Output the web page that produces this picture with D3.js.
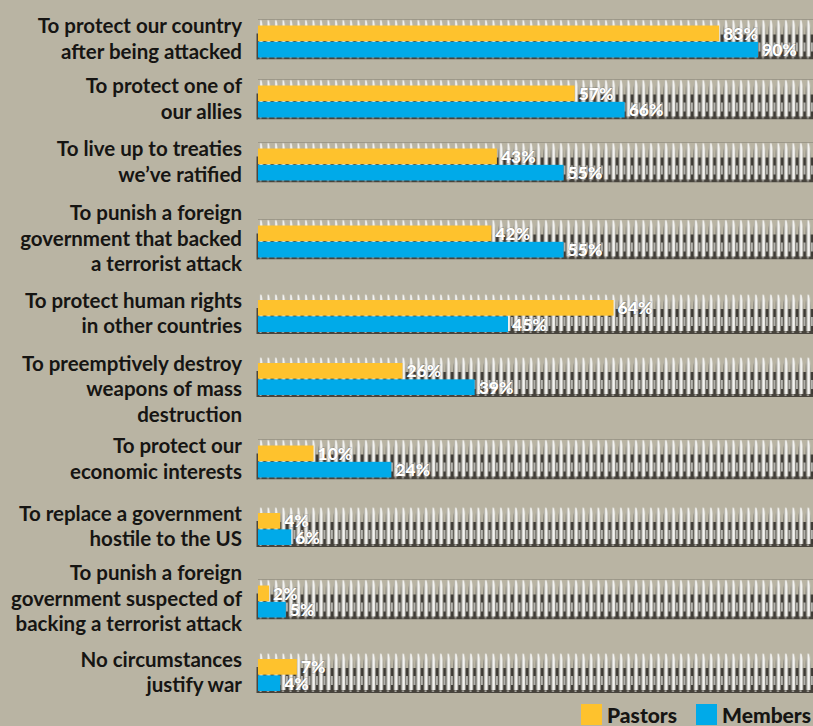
<!DOCTYPE html>
<html lang="en">
<head>
<meta charset="UTF-8">
<title>Justifications for war</title>
<style>
  body { margin: 0; background: #b9b4a3; }
  svg { display: block; }
</style>
<script src="https://cdn.jsdelivr.net/npm/d3@7"></script>
</head>
<body>
<div id="chart"></div>
<script>
// data
const categories = [
  "To protect our country\nafter being attacked",
  "To protect one of\nour allies",
  "To live up to treaties\nwe\u2019ve ratified",
  "To punish a foreign\ngovernment that backed\na terrorist attack",
  "To protect human rights\nin other countries",
  "To preemptively destroy\nweapons of mass\ndestruction",
  "To protect our\neconomic interests",
  "To replace a government\nhostile to the US",
  "To punish a foreign\ngovernment suspected of\nbacking a terrorist attack",
  "No circumstances\njustify war"
];
const series = ["Pastors", "Members"];
const pastors = [83, 57, 43, 42, 64, 26, 10, 4, 2, 7];
const members = [90, 66, 55, 55, 45, 39, 24, 6, 5, 4];

// layout
const width = 813, height = 726;
const rowCenters = [41.5, 101.5, 164.5, 241.5, 316, 379, 461.5, 529, 601.5, 675];
const hangingRows = [5]; // label third line hangs below the bar
const colors = { Pastors: "#fec22d", Members: "#00aae9" };
const lineH = 25.5;

const svg = d3.select("#chart").append("svg")
  .attr("width", width).attr("height", height);

svg.append("rect").attr("width", width).attr("height", height).attr("fill", "#b9b4a3");

const x = d3.scaleLinear().domain([0, 100]).range([258, 258 + 555.6]);
const y = d3.scaleOrdinal(categories, rowCenters);
const inner = d3.scaleBand(series, [-16, 16]).paddingInner(0.04);
const color = d3.scaleOrdinal(series, [colors.Pastors, colors.Members]);

// ribbed texture behind bars
const P = 7.5, H = 40, bandTop = -22;
const defs = svg.append("defs");
const grad = defs.append("linearGradient").attr("id", "spike")
  .attr("x1", 0).attr("x2", 1).attr("y1", 0).attr("y2", 0);
[[0, "#66645d"], [0.3, "#cfcec7"], [0.55, "#ffffff"], [0.8, "#dddcd6"], [1, "#8a8880"]]
  .forEach(s => grad.append("stop").attr("offset", s[0]).attr("stop-color", s[1]));

const pat = defs.append("pattern").attr("id", "rib")
  .attr("patternUnits", "userSpaceOnUse")
  .attr("x", 258).attr("y", bandTop)
  .attr("width", P).attr("height", H);
pat.append("rect").attr("width", P).attr("height", H).attr("fill", "#b9b4a3");
pat.append("rect").attr("y", 15).attr("width", P).attr("height", H - 15).attr("fill", "#3d3a34");
pat.append("rect").attr("x", 5.9).attr("y", 23).attr("width", 1.2).attr("height", 9).attr("fill", "#efeee8");
pat.append("path")
  .attr("d", `M0.3,${H - 3} L0.3,13 Q0.7,2 2.7,0 Q4.7,2 5.3,13 L5.3,${H - 3} Z`)
  .attr("fill", "url(#spike)");
pat.append("rect").attr("y", H - 3).attr("width", P).attr("height", 3).attr("fill", "#47433c");
pat.append("rect").attr("x", 1.5).attr("y", H - 2.5).attr("width", 2).attr("height", 1.2).attr("fill", "#d9d8d1");

const rows = svg.selectAll("g.row")
  .data(categories.map((c, i) => ({ c, i, vals: [pastors[i], members[i]] })))
  .join("g").attr("class", "row")
  .attr("transform", d => `translate(0,${y(d.c)})`);

rows.append("rect")
  .attr("x", x(0)).attr("y", bandTop)
  .attr("width", x(100) - x(0)).attr("height", H)
  .attr("fill", "url(#rib)");

rows.append("rect")
  .attr("x", x(0) - 1.5).attr("y", -8).attr("width", 1.5).attr("height", 26)
  .attr("fill", "#4a463f");

rows.selectAll("rect.bar")
  .data(d => series.map((s, k) => ({ s, v: d.vals[k] })))
  .join("rect").attr("class", "bar")
  .attr("x", x(0))
  .attr("y", d => inner(d.s))
  .attr("width", d => x(d.v) - x(0))
  .attr("height", inner.bandwidth())
  .attr("fill", d => color(d.s));

rows.selectAll("text.val")
  .data(d => series.map((s, k) => ({ s, v: d.vals[k] })))
  .join("text").attr("class", "val")
  .attr("x", d => x(d.v) + 4)
  .attr("y", d => inner(d.s) + inner.bandwidth() - 1.5)
  .attr("fill", "#ffffff")
  .attr("font-family", "Lato, sans-serif")
  .attr("font-weight", 900)
  .attr("font-size", 17.5)
  .style("paint-order", "stroke")
  .attr("stroke", "rgba(60,58,52,0.35)")
  .attr("stroke-width", 1)
  .text(d => d.v + "%");

// category labels
rows.each(function (d) {
  const lines = d.c.split("\n");
  const n = hangingRows.includes(d.i) ? 2 : lines.length;
  const first = -8.5 - (n - 2) * lineH / 2;
  const t = d3.select(this).append("text")
    .attr("text-anchor", "end")
    .attr("font-family", "Lato, sans-serif")
    .attr("font-weight", 700)
    .attr("font-size", 20.5)
    .attr("fill", "#161513");
  lines.forEach((l, j) => {
    t.append("tspan").attr("x", 242).attr("y", first + j * lineH).text(l);
  });
});

// legend
const legend = svg.append("g").attr("transform", "translate(0,704)");
const legX = d3.scaleOrdinal(series, [581, 696]);
legend.selectAll("rect")
  .data(series).join("rect")
  .attr("x", d => legX(d)).attr("y", 0)
  .attr("width", 21).attr("height", 21)
  .attr("fill", d => color(d));
legend.selectAll("text")
  .data(series).join("text")
  .attr("x", d => legX(d) + 26).attr("y", 19)
  .attr("font-family", "Lato, sans-serif")
  .attr("font-weight", 900)
  .attr("font-size", 21)
  .attr("fill", "#161513")
  .text(d => d);
</script>
</body>
</html>
